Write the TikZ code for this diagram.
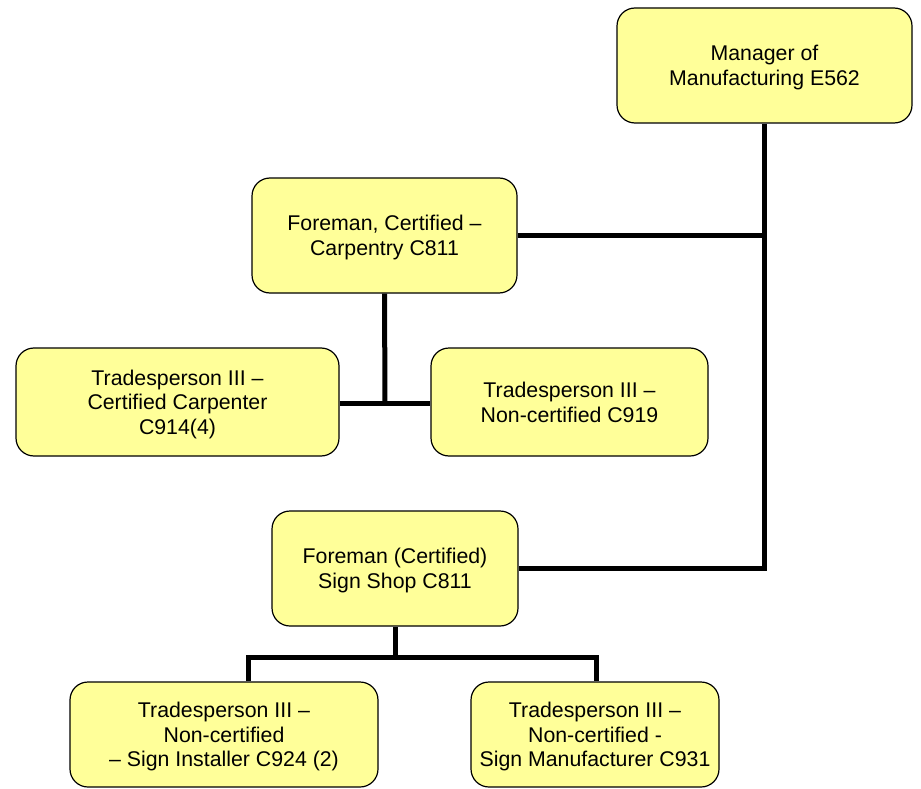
\documentclass[tikz,border=0pt]{standalone}
\usepackage{fontspec}
\setmainfont{Liberation Sans}
\begin{document}
\begin{tikzpicture}[x=1pt,y=-1pt,
  box/.style={draw=black, line width=1.2pt, fill={rgb,255:red,255;green,255;blue,153}, rounded corners=18pt, align=center, inner sep=0pt, text depth=0pt, font=\fontsize{21.3}{24.6}\selectfont},
  link/.style={line width=5pt}]
\useasboundingbox (0,0) rectangle (921,789);
\node[box, minimum width=295pt, minimum height=115pt] (mgr) at (764.5,65.5) {Manager of\\Manufacturing E562};
\node[box, minimum width=265pt, minimum height=115pt] (fc) at (384.5,235.5) {Foreman, Certified –\\Carpentry C811};
\node[box, minimum width=323pt, minimum height=108pt] (tc) at (177.5,402) {Tradesperson III –\\Certified Carpenter\\C914(4)};
\node[box, minimum width=277pt, minimum height=108pt] (tn) at (569.5,402) {Tradesperson III –\\Non-certified C919};
\node[box, minimum width=246pt, minimum height=115pt] (fs) at (395,568.5) {Foreman (Certified)\\Sign Shop C811};
\node[box, minimum width=308pt, minimum height=105pt] (ti) at (224,734.5) {Tradesperson III –\\Non-certified\\– Sign Installer C924 (2)};
\node[box, minimum width=248pt, minimum height=105pt] (tm) at (595,734.5) {Tradesperson III –\\Non-certified -\\Sign Manufacturer C931};
\coordinate (spine) at (764,570);
\coordinate (j1) at (385,403);
\coordinate (j2) at (395,657);
\draw[link] (mgr.south) ++(-0.5,0) |- (fs.east);
\draw[link] (fc.east) -- (fc.east -| spine);
\draw[link] (fc.south) -- (j1);
\draw[link] (tc.east |- j1) -- (tn.west |- j1);
\draw[link] (fs.south) -- (j2);
\draw[link] (ti.north -| 248,0) |- (j2) -| (596,0 |- tm.north);
\end{tikzpicture}
\end{document}
